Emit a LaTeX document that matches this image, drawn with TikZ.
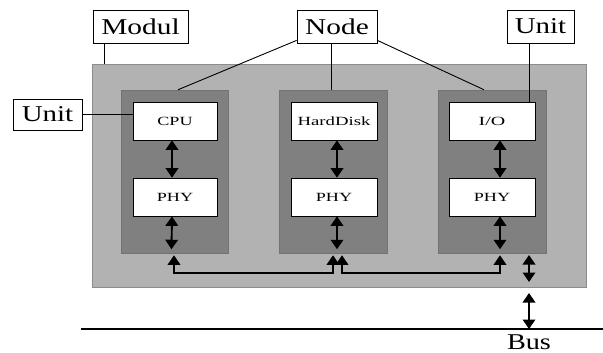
\documentclass[tikz,border=0pt]{standalone}
\usepackage{fontspec}
\setmainfont{Liberation Serif}
\usetikzlibrary{arrows.meta}
\newcommand\wide[2]{\scalebox{#1}[1]{#2}}
\tikzset{
  label box/.style={draw=black, line width=0.8pt, fill=white, inner sep=0pt,
    font=\fontsize{22.6}{24}\selectfont},
  unit box/.style={draw=black, line width=0.7pt, fill=white, inner sep=0pt,
    minimum height=38pt, font=\fontsize{12.5}{14}\selectfont},
  module/.style={fill=black!30, draw=black!45, line width=0.6pt, inner sep=0pt},
  node area/.style={fill=black!50, draw=black!55, line width=0.5pt, inner sep=0pt,
    minimum width=107pt, minimum height=163pt},
  pointer/.style={line width=0.9pt},
  link/.style={line width=1.9pt, {Triangle[width=12.5pt,length=9.5pt]}-{Triangle[width=12.5pt,length=9.5pt]}},
}
\begin{document}
\begin{tikzpicture}[x=1pt, y=-1pt]
\useasboundingbox (0,0) rectangle (603,353);

% module frame and the three node areas
\node[module, minimum width=494pt, minimum height=223pt] (outer) at (339,175.5) {};
\node[node area] (n1) at (174.5,171.5) {};
\node[node area, minimum width=108pt] (n2) at (333,171.5) {};
\node[node area, minimum width=108pt] (n3) at (492,171.5) {};

% units inside the nodes
\node[unit box, minimum width=84pt] (cpu) at (175,121) {\wide{1.45}{CPU}};
\node[unit box, minimum width=86pt] (hd)  at (334,121) {\wide{1.5}{HardDisk}};
\node[unit box, minimum width=86pt] (io)  at (492,121) {\wide{1.6}{I/O}};
\node[unit box, minimum width=84pt] (phy1) at (175,197) {\wide{1.45}{PHY}};
\node[unit box, minimum width=86pt] (phy2) at (334,197) {\wide{1.45}{PHY}};
\node[unit box, minimum width=86pt] (phy3) at (492,197) {\wide{1.45}{PHY}};

% callout labels
\node[label box, minimum width=95pt, minimum height=33pt] (modul) at (140.5,26.5) {\wide{1.3}{Modul}};
\node[label box, minimum width=80pt, minimum height=33pt] (nodel) at (337,26.5) {\wide{1.3}{Node}};
\node[label box, minimum width=67pt, minimum height=33pt] (unitr) at (540.5,26.5) {\wide{1.28}{Unit}};
\node[label box, minimum width=69pt, minimum height=31pt] (unitl) at (47.5,114.5) {\wide{1.28}{Unit}};

% callout leaders
\draw[pointer] ([xshift=-36.5pt]modul.south) -- ([xshift=-36.5pt]modul.south |- outer.north);
\draw[pointer] ([yshift=3pt]nodel.south west) -- ([xshift=3.5pt]n1.north);
\draw[pointer] ([xshift=-6pt]nodel.south) -- ([xshift=-6pt]nodel.south |- n2.north);
\draw[pointer] ([yshift=3pt]nodel.south east) -- ([xshift=-8pt]n3.north);
\draw[pointer] ([xshift=-11.5pt]unitr.south) -- ([xshift=-11.5pt]unitr.south |- io.north);
\draw[pointer] (unitl.east) -- (unitl.east -| cpu.west);

% unit to PHY links
\draw[link] ([xshift=-3pt]cpu.south) -- ([xshift=-3pt]phy1.north);
\draw[link] ([xshift=3pt]hd.south) -- ([xshift=3pt]phy2.north);
\draw[link] ([xshift=8pt]io.south) -- ([xshift=8pt]phy3.north);

% PHY to node edge links
\draw[link] ([xshift=-3pt]phy1.south) -- ([xshift=-3pt,yshift=4pt]n1.south);
\draw[link] ([xshift=3pt]phy2.south) -- ([xshift=4pt,yshift=4pt]n2.south);
\draw[link] ([xshift=8pt]phy3.south) -- ([xshift=8pt,yshift=4pt]n3.south);

% internal bus between the nodes
\coordinate (a1) at ([xshift=-0.5pt,yshift=-2pt]n1.south);
\coordinate (a2) at ([xshift=0pt,yshift=-2pt]n2.south);
\coordinate (a3) at ([xshift=9pt,yshift=-2pt]n2.south);
\coordinate (a4) at ([xshift=8pt,yshift=-2pt]n3.south);
\draw[link, line width=1.6pt] (a1) -- ++(0,18) -| (a2);
\draw[link, line width=1.6pt] (a3) -- ++(0,18) -| (a4);

% module to external bus
\coordinate (m1) at (529,255);
\coordinate (m2) at (529,282);
\draw[link] (m1) -- (m2);

\coordinate (busL) at (81,329);
\coordinate (busR) at (603,329);
\draw[line width=1.8pt] (busL) -- (busR);
\coordinate (b1) at (529,293);
\draw[link] (b1) -- (b1 |- busL);
\node[font=\fontsize{22.6}{24}\selectfont, inner sep=0pt, anchor=base] (bus) at (529,349.5) {\wide{1.25}{Bus}};
\end{tikzpicture}
\end{document}
